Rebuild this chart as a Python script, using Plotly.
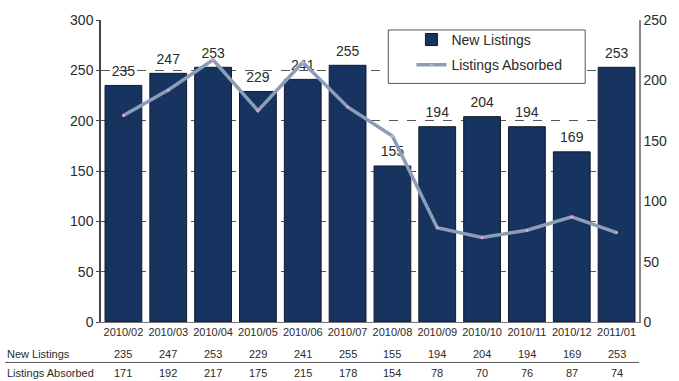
import plotly.graph_objects as go

# Monthly listings data
months = ["2010/02", "2010/03", "2010/04", "2010/05", "2010/06", "2010/07",
          "2010/08", "2010/09", "2010/10", "2010/11", "2010/12", "2011/01"]
new_listings = [235, 247, 253, 229, 241, 255, 155, 194, 204, 194, 169, 253]
listings_absorbed = [171, 192, 217, 175, 215, 178, 154, 78, 70, 76, 87, 74]

left_ticks = [0, 50, 100, 150, 200, 250, 300]
right_ticks = [0, 50, 100, 150, 200, 250]

FONT = "Liberation Sans, Arial, sans-serif"
TEXT = "#2b2b2b"
BAR = "#17335f"
LINE = "#8b9db7"

fig = go.Figure()

fig.add_trace(go.Bar(
    x=months, y=new_listings, name="New Listings",
    marker=dict(color=BAR, line=dict(color="#111a2a", width=1)),
    legendgroup="a",
))

# Value labels above each bar (drawn beneath the absorbed line)
fig.add_trace(go.Scatter(
    x=months, y=new_listings, mode="markers+text",
    text=[str(v) for v in new_listings], textposition="top center",
    textfont=dict(size=14, color=TEXT, family=FONT),
    marker=dict(size=8, color="rgba(0,0,0,0)"),
    showlegend=False, hoverinfo="skip", cliponaxis=False,
))

fig.add_trace(go.Scatter(
    x=months, y=listings_absorbed, name="Listings Absorbed", yaxis="y2",
    mode="lines+markers",
    line=dict(color=LINE, width=3.5),
    marker=dict(size=3, color="#e8a0c8"),
    legendgroup="b",
))

annotations = []

# Data table under the chart
row_y = {"New Listings": -0.105, "Listings Absorbed": -0.170}
for label, vals in (("New Listings", new_listings), ("Listings Absorbed", listings_absorbed)):
    annotations.append(dict(
        x=-0.178, y=row_y[label], xref="paper", yref="paper",
        xanchor="left", yanchor="middle", showarrow=False, text=label,
        font=dict(size=11, color=TEXT, family=FONT)))
    for m, v in zip(months, vals):
        annotations.append(dict(
            x=m, y=row_y[label], xref="x", yref="paper",
            xanchor="center", yanchor="middle", showarrow=False, text=str(v),
            font=dict(size=11, color=TEXT, family=FONT)))

shapes = [
    # separator between table rows
    dict(type="line", xref="paper", yref="paper", x0=-0.178, x1=1.0,
         y0=-0.134, y1=-0.134, line=dict(color="#555555", width=1)),
    # legend frame
    dict(type="rect", xref="paper", yref="paper", x0=0.534, x1=0.9, y0=0.79, y1=0.967,
         fillcolor="white", line=dict(color="#555555", width=1), layer="above"),
]

fig.update_layout(
    width=679, height=381,
    margin=dict(l=101, r=39, t=16, b=59),
    paper_bgcolor="white", plot_bgcolor="white",
    font=dict(family=FONT, size=14, color=TEXT),
    bargap=0.18,
    showlegend=True,
    legend=dict(x=0.577, y=0.987, xanchor="left", yanchor="top",
                bgcolor="rgba(0,0,0,0)", borderwidth=0,
                font=dict(size=14, color=TEXT, family=FONT),
                traceorder="grouped", tracegroupgap=4, itemwidth=30),
    xaxis=dict(showgrid=False, showline=True, linecolor="#777777", linewidth=1,
               ticks="", tickfont=dict(size=11, color=TEXT, family=FONT),
               range=[-0.5, 11.5]),
    yaxis=dict(range=[0, 300], tickvals=left_ticks, showgrid=True,
               gridcolor="#555555", griddash="dash", gridwidth=1,
               showline=True, linecolor="#444444", linewidth=1.5,
               ticks="outside", ticklen=3, tickcolor="#444444",
               zeroline=False, tickfont=dict(size=14, color=TEXT, family=FONT)),
    yaxis2=dict(range=[0, 250], tickvals=right_ticks, overlaying="y", side="right",
                showgrid=False, showline=True, linecolor="#888888", linewidth=1.5,
                ticks="", zeroline=False, tickfont=dict(size=14, color=TEXT, family=FONT)),
    annotations=annotations,
    shapes=shapes,
)

fig.write_html("out.html")
